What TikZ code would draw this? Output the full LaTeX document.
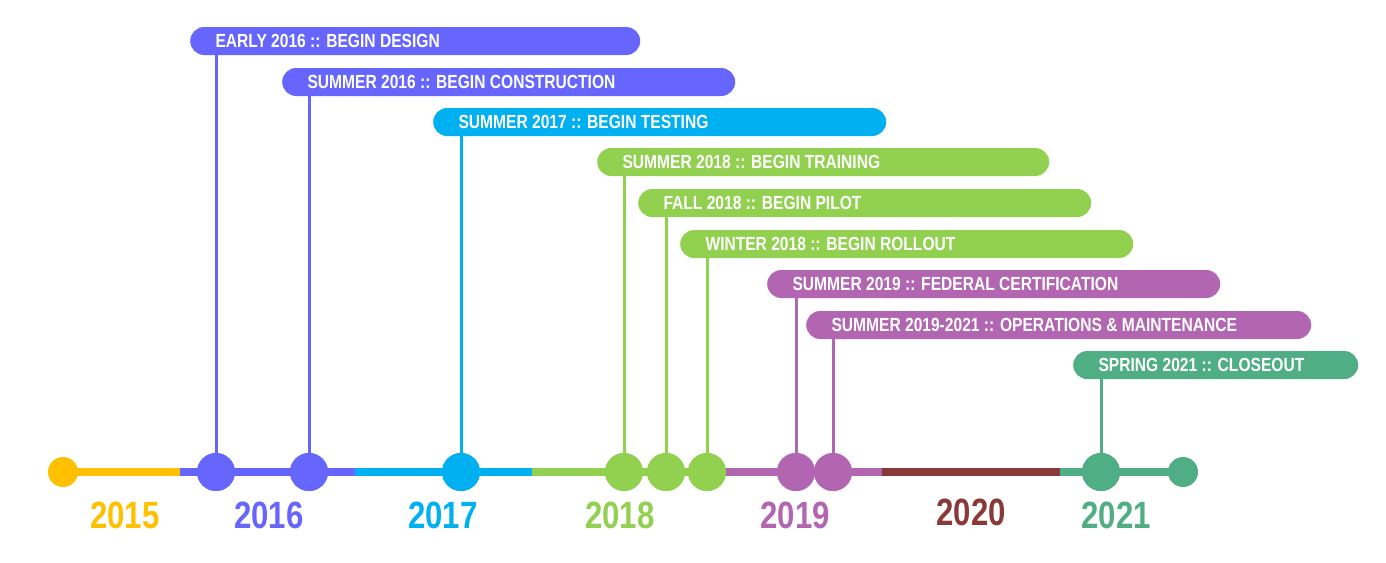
\documentclass[tikz,border=0pt]{standalone}
\usepackage{fontspec}
\setmainfont{Liberation Sans}[FakeStretch=0.82]
\usepackage{tikz}

\begin{document}
\begin{tikzpicture}[x=1pt,y=-1pt]
				% 颜色列表
				\definecolor{cyear}{RGB}{255,192,0}
				\definecolor{cviolet}{RGB}{102,102,255}
				\definecolor{ccyan}{RGB}{0,176,240}
				\definecolor{cgreen}{RGB}{146,208,80}
				\definecolor{cpurple}{RGB}{178,102,178}
				\definecolor{cred}{RGB}{139,56,56}
				\definecolor{cteal}{RGB}{80,174,132}
				\tikzset{
					bar/.style={fill=#1, rounded corners=14pt, minimum height=28pt, inner sep=0pt, anchor=west},
					label/.style={text=white, font=\bfseries\fontsize{19}{19}\selectfont, anchor=west},
					dot/.style={circle, fill=#1, minimum size=38pt, inner sep=0pt},
					enddot/.style={circle, fill=#1, minimum size=30pt, inner sep=0pt},
					year/.style={text=#1, font=\bfseries\fontsize{38}{38}\selectfont},
					stem/.style={draw=#1, line width=3pt}
				}
				\useasboundingbox (0,0) rectangle (1386,562);
				
				% 时间轴
				\foreach \a/\b/\c in {63/180/cyear,180/355/cviolet,355/532/ccyan,532/725/cgreen,725/882/cpurple,882/1060/cred,1060/1183/cteal}
				\draw[\c, line width=8pt] (\a,472) -- (\b,472);
				
				\node[enddot=cyear] (start) at (63,472) {};
				\node[enddot=cteal] (stop) at (1183,472) {};
				
				% 事件条
				\foreach \n/\x/\xx/\y/\c/\t/\p in {
					a/190/640/41/cviolet/{EARLY 2016 :: BEGIN DESIGN}/216,
					b/282/735/82/cviolet/{SUMMER 2016 :: BEGIN CONSTRUCTION}/309,
					c/433/886/122/ccyan/{SUMMER 2017 :: BEGIN TESTING}/461,
					d/597/1049/162/cgreen/{SUMMER 2018 :: BEGIN TRAINING}/624,
					e/638/1091/203/cgreen/{FALL 2018 :: BEGIN PILOT}/666,
					f/680/1133/244/cgreen/{WINTER 2018 :: BEGIN ROLLOUT}/707,
					g/767/1220/284/cpurple/{SUMMER 2019 :: FEDERAL CERTIFICATION}/796,
					h/806/1311/325/cpurple/{SUMMER 2019-2021 :: OPERATIONS \& MAINTENANCE}/833,
					i/1073/1358/365/cteal/{SPRING 2021 :: CLOSEOUT}/1101}
				{
					\node[bar=\c, minimum width=\xx-\x] (bar\n) at (\x,\y) {};
					\node[label] at (\x+22,\y) {\t};
					\node[dot=\c] (dot\n) at (\p,472) {};
					\draw[stem=\c] (dot\n.center) -- (dot\n |- bar\n.south);
					\node[dot=\c] at (\p,472) {};
				}
				
				% 年份
				\foreach \x/\y/\t/\c in {125/515/2015/cyear,269/515/2016/cviolet,443/515/2017/ccyan,620/515/2018/cgreen,795/515/2019/cpurple,971/512/2020/cred,1116/515/2021/cteal}
				\node[year=\c] (y\t) at (\x,\y) {\t};
			\end{tikzpicture}
\end{document}
